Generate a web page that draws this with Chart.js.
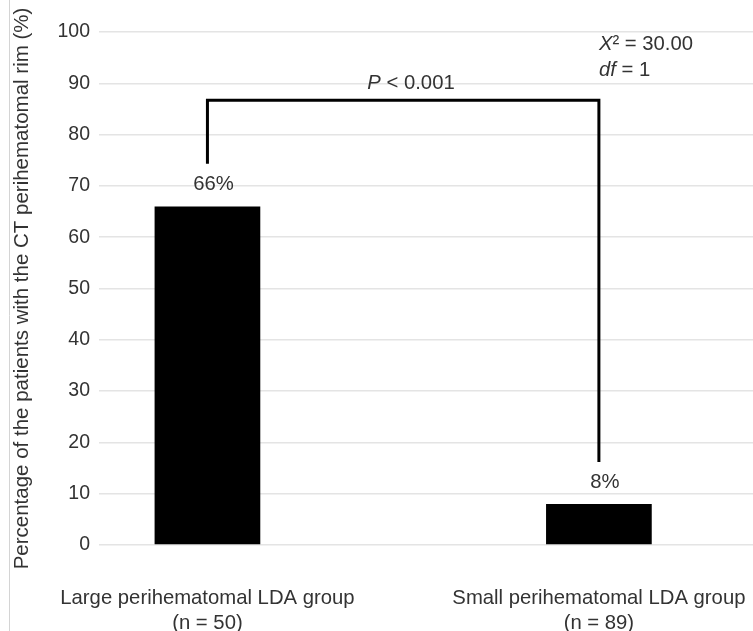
<!DOCTYPE html>
<html>
<head>
<meta charset="utf-8">
<script src="https://cdn.jsdelivr.net/npm/chart.js@4/dist/chart.umd.min.js"></script>
<style>
  html, body { margin: 0; padding: 0; background: #fff; }
  #wrap { width: 753px; height: 631px; overflow: hidden; }
  #wrap canvas { display: block; }
</style>
</head>
<body>
<div id="wrap"><canvas id="chart" width="860" height="631"></canvas></div>
<script>
// groups on the x axis (drawn on a linear scale so the plot can start left of the first bar)
const groups = [
  ['Large perihematomal LDA group', '(n = 50)'],
  ['Small perihematomal LDA group', '(n = 89)']
];
const groupPos = [0, 1];
const rimPercent = [66, 8];
const yTicks = [0, 10, 20, 30, 40, 50, 60, 70, 80, 90, 100];

// significance bracket and stats text (in data units)
const bracketTop = 86.7;
const bracketEnds = [74.3, 16.2];
const pText = ['P', ' < 0.001'];
const pAt = [0.52, 90];
const statText = [['X', '\u00b2 = 30.00'], ['df', ' = 1']];
const statX = 1;
const statY = [97.5, 92.6];

const FONT = "'Liberation Sans', Arial, sans-serif";
const TXT = '#333333';
const FS = 20.3;

// draw "italic + normal" pieces of text starting at x
function drawMixed(ctx, parts, x, y, align) {
  ctx.font = 'italic ' + FS + 'px ' + FONT;
  const w0 = ctx.measureText(parts[0]).width;
  ctx.font = FS + 'px ' + FONT;
  const w1 = ctx.measureText(parts[1]).width;
  let start = align === 'center' ? x - (w0 + w1) / 2 : x;
  ctx.textAlign = 'left';
  ctx.textBaseline = 'middle';
  ctx.font = 'italic ' + FS + 'px ' + FONT;
  ctx.fillText(parts[0], start, y);
  ctx.font = FS + 'px ' + FONT;
  ctx.fillText(parts[1], start + w0, y);
}

const extras = {
  id: 'extras',
  beforeDraw(chart) {
    const ctx = chart.ctx;
    ctx.save();
    ctx.strokeStyle = '#d4d4d4';
    ctx.lineWidth = 1;
    ctx.beginPath();
    ctx.moveTo(9.5, 0);
    ctx.lineTo(9.5, chart.height);
    ctx.stroke();
    ctx.restore();
  },
  afterDatasetsDraw(chart) {
    const ctx = chart.ctx;
    const xs = chart.scales.x, ys = chart.scales.y;
    ctx.save();
    ctx.fillStyle = TXT;

    // value labels
    ctx.font = FS + 'px ' + FONT;
    ctx.textAlign = 'center';
    ctx.textBaseline = 'middle';
    chart.getDatasetMeta(0).data.forEach((bar, i) => {
      ctx.fillText(rimPercent[i] + '%', bar.x + 6, bar.y - 22);
    });

    // bracket
    const x0 = xs.getPixelForValue(groupPos[0]);
    const x1 = xs.getPixelForValue(groupPos[1]);
    ctx.strokeStyle = '#000';
    ctx.lineWidth = 3;
    ctx.lineJoin = 'miter';
    ctx.beginPath();
    ctx.moveTo(x0, ys.getPixelForValue(bracketEnds[0]));
    ctx.lineTo(x0, ys.getPixelForValue(bracketTop));
    ctx.lineTo(x1, ys.getPixelForValue(bracketTop));
    ctx.lineTo(x1, ys.getPixelForValue(bracketEnds[1]));
    ctx.stroke();

    drawMixed(ctx, pText, xs.getPixelForValue(pAt[0]), ys.getPixelForValue(pAt[1]), 'center');
    statText.forEach((t, i) => {
      drawMixed(ctx, t, xs.getPixelForValue(statX), ys.getPixelForValue(statY[i]), 'left');
    });
    ctx.restore();
  }
};

new Chart(document.getElementById('chart').getContext('2d'), {
  type: 'bar',
  data: {
    datasets: [{
      data: groupPos.map((x, i) => ({ x: x, y: rimPercent[i] })),
      backgroundColor: '#000',
      borderWidth: 0,
      barPercentage: 0.27,
      categoryPercentage: 1
    }]
  },
  options: {
    responsive: false,
    animation: false,
    layout: { padding: { top: 32, left: 0, right: 0, bottom: 0 } },
    plugins: { legend: { display: false }, tooltip: { enabled: false } },
    scales: {
      x: {
        type: 'linear',
        offset: false,
        min: -0.277,
        max: 1.667,
        grid: { display: false, offset: false },
        border: { display: false },
        afterBuildTicks: (s) => { s.ticks = groupPos.map(v => ({ value: v })); },
        afterFit: (s) => { s.height = 86; },
        ticks: {
          autoSkip: false,
          maxRotation: 0,
          minRotation: 0,
          padding: 33,
          color: TXT,
          font: { family: FONT, size: FS, lineHeight: 1.23 },
          callback: (v) => {
            const i = groupPos.indexOf(v);
            return i >= 0 ? groups[i] : '';
          }
        }
      },
      y: {
        min: 0,
        max: 100,
        afterBuildTicks: (s) => { s.ticks = yTicks.map(v => ({ value: v })); },
        afterFit: (s) => { s.width = 99; },
        grid: { color: '#e4e4e4', lineWidth: 1.5, drawTicks: false },
        border: { display: false },
        ticks: { padding: 9, color: TXT, font: { family: FONT, size: 19.5 } },
        title: {
          display: true,
          text: 'Percentage of the patients with the CT perihematomal rim (%)',
          color: TXT,
          font: { family: FONT, size: 20.5 },
          padding: { top: 10, bottom: 0 }
        }
      }
    }
  },
  plugins: [extras]
});
</script>
</body>
</html>
